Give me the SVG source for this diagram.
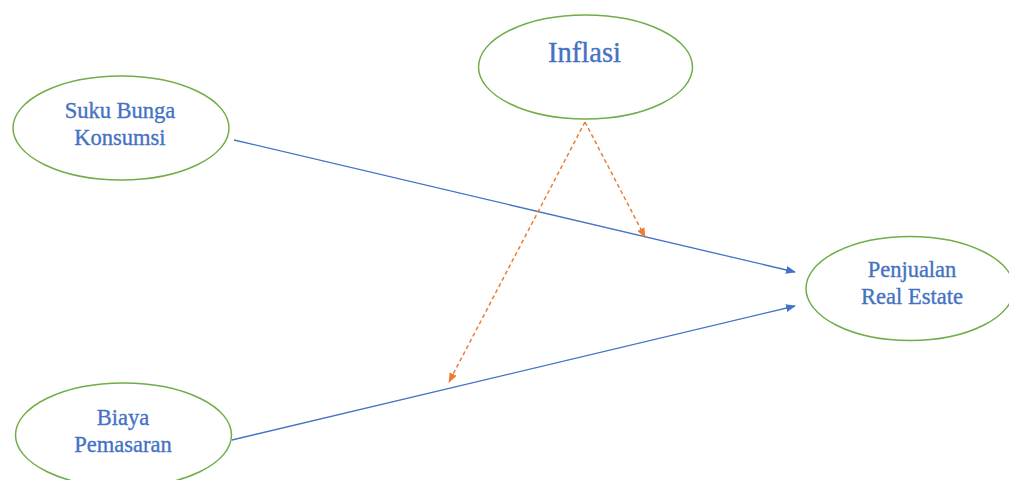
<svg xmlns="http://www.w3.org/2000/svg" width="1009" height="480" viewBox="0 0 1009 480">
<style>
.node{fill:#ffffff;stroke:#70AD47;stroke-width:1.5}
.lbl{font-family:"Liberation Serif","Times New Roman",serif;fill:#4472C4;stroke:#4472C4;stroke-width:0.35;font-size:22.5px;text-anchor:middle}
.blue{stroke:#4472C4;stroke-width:1.3;fill:none}
.orange{stroke:#ED7D31;stroke-width:1.5;fill:none;stroke-dasharray:4 3}
</style>
<defs>
<marker id="ab" markerWidth="10" markerHeight="8" refX="9" refY="4" orient="auto" markerUnits="userSpaceOnUse">
<path d="M0,0 L10,4 L0,8 Z" fill="#4472C4"/>
</marker>
<marker id="ao" markerWidth="10" markerHeight="8" refX="9" refY="4" orient="auto" markerUnits="userSpaceOnUse">
<path d="M0,0 L10,4 L0,8 Z" fill="#ED7D31"/>
</marker>
</defs>
<rect width="1009" height="480" fill="#ffffff"/>
<g id="connectors">
<line class="blue" x1="234" y1="140" x2="795" y2="272" marker-end="url(#ab)"/>
<line class="blue" x1="232" y1="440" x2="795" y2="306" marker-end="url(#ab)"/>
<line class="orange" x1="585" y1="122" x2="449" y2="382" marker-end="url(#ao)"/>
<line class="orange" x1="585" y1="122" x2="645" y2="237" marker-end="url(#ao)"/>
</g>
<g id="suku">
<ellipse class="node" cx="121" cy="128" rx="108" ry="52"/>
<text class="lbl" x="120" y="118">Suku Bunga</text>
<text class="lbl" x="120" y="145">Konsumsi</text>
</g>
<g id="inflasi">
<ellipse class="node" cx="585.5" cy="67" rx="107" ry="52"/>
<text class="lbl" x="584.5" y="62" style="font-size:28.5px">Inflasi</text>
</g>
<g id="penjualan">
<ellipse class="node" cx="910" cy="288.5" rx="104" ry="52"/>
<text class="lbl" x="912" y="277">Penjualan</text>
<text class="lbl" x="912" y="304">Real Estate</text>
</g>
<g id="biaya">
<ellipse class="node" cx="123.5" cy="435" rx="108" ry="52"/>
<text class="lbl" x="123" y="425">Biaya</text>
<text class="lbl" x="123" y="452">Pemasaran</text>
</g>
</svg>
